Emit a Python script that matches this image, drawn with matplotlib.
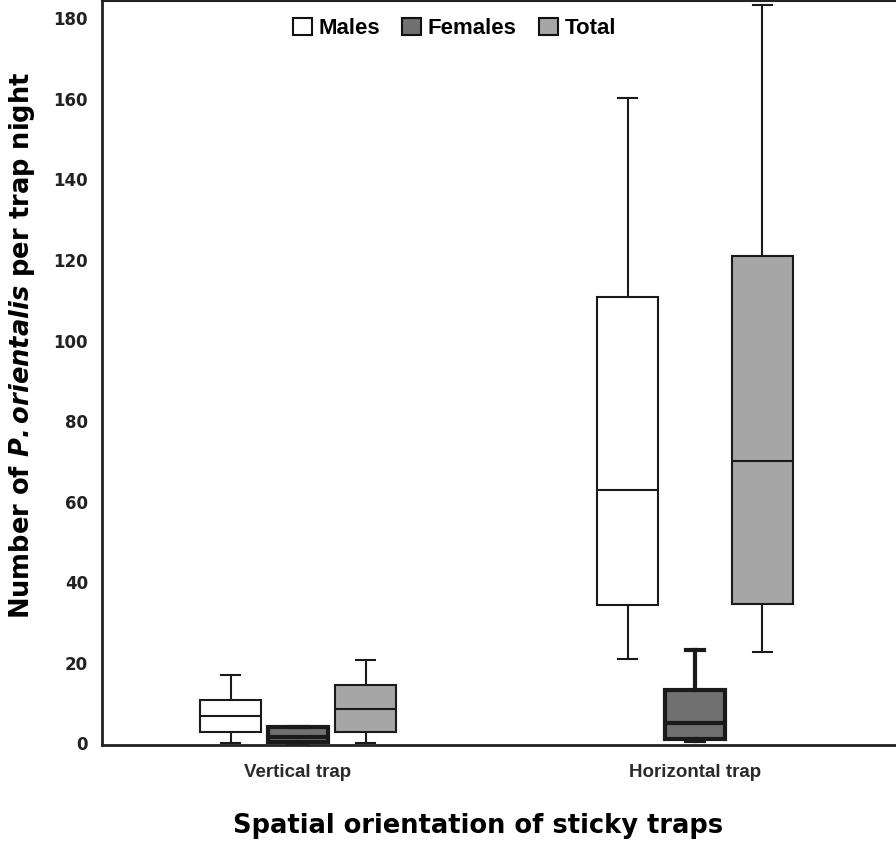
import matplotlib
matplotlib.use("Agg")
import matplotlib.pyplot as plt
from matplotlib.patches import Patch

groups = ["Vertical trap", "Horizontal trap"]
series = ["Males", "Females", "Total"]
colors = ["#ffffff", "#707070", "#a6a6a6"]

# per series: [vertical, horizontal]
whislo = {"Males": [0.0, 20.9], "Females": [0.0, 0.5], "Total": [0.0, 22.7]}
q1 = {"Males": [2.7, 34.4], "Females": [0.3, 1.2], "Total": [2.7, 34.6]}
med = {"Males": [6.7, 63.0], "Females": [1.6, 5.1], "Total": [8.6, 70.0]}
q3 = {"Males": [10.7, 110.8], "Females": [4.1, 13.3], "Total": [14.5, 121.0]}
whishi = {"Males": [16.9, 160.1], "Females": [4.1, 23.1], "Total": [20.8, 183.2]}

fig = plt.figure(figsize=(8.96, 8.43), dpi=100)
ax = fig.add_axes([0.1138, 0.1163, 0.89, 0.8825])

offsets = [-0.17, 0.0, 0.17]
width = 0.152
for si, name in enumerate(series):
    stats = []
    for gi in range(len(groups)):
        stats.append(dict(med=med[name][gi], q1=q1[name][gi], q3=q3[name][gi],
                          whislo=whislo[name][gi], whishi=whishi[name][gi], fliers=[]))
    lw = 3.0 if name == "Females" else 1.5
    pos = [gi + offsets[si] for gi in range(len(groups))]
    ax.bxp(stats, positions=pos, widths=width, capwidths=0.046, patch_artist=True,
           showfliers=False, manage_ticks=False,
           boxprops=dict(facecolor=colors[si], edgecolor="#1a1a1a", linewidth=lw),
           medianprops=dict(color="#1a1a1a", linewidth=lw),
           whiskerprops=dict(color="#1a1a1a", linewidth=lw),
           capprops=dict(color="#1a1a1a", linewidth=lw))

ax.set_xlim(-0.494, 1.515)
ax.set_ylim(-0.4, 184.3)
ax.set_yticks(range(0, 181, 20))
ax.set_yticklabels([str(v) for v in range(0, 181, 20)], fontsize=12,
                   fontweight="bold", color="#222222")
ax.set_xticks(range(len(groups)))
ax.set_xticklabels(groups, fontsize=13.5, fontweight="bold", color="#2a2a2a",
                   family="Liberation Sans")
ax.tick_params(axis="both", length=0)
ax.tick_params(axis="y", pad=10)
ax.tick_params(axis="x", pad=14)

ax.spines["right"].set_visible(False)
ax.spines["left"].set_linewidth(2)
ax.spines["bottom"].set_linewidth(2)
ax.spines["top"].set_linewidth(1.5)
for s in ["left", "bottom", "top"]:
    ax.spines[s].set_color("#222222")

fig.text(0.0245, 0.591, "Number of $\\mathbfit{P. orientalis}$ per trap night",
         rotation=90, ha="center", va="center", fontsize=18.5, fontweight="bold")
fig.text(0.534, 0.02, "Spatial orientation of sticky traps", ha="center",
         va="center", fontsize=18.5, fontweight="bold")

handles = [Patch(facecolor=c, edgecolor="#111111", linewidth=1.5) for c in colors]
ax.legend(handles, series, loc="center", bbox_to_anchor=(0.442, 0.963), ncol=3,
          frameon=False, handlelength=0.85, handleheight=0.85, handletextpad=0.3,
          columnspacing=1.0, prop=dict(family="Liberation Sans", weight="bold", size=16))

fig.savefig("out.png", dpi=100)
